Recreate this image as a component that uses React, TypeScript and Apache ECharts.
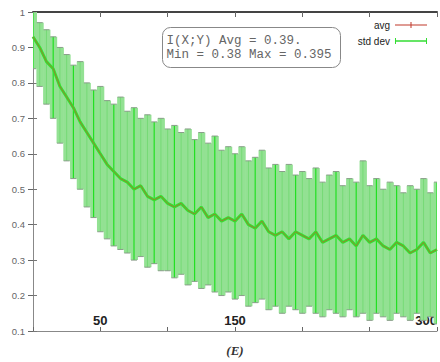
import React, { useEffect, useRef } from "react";
import * as echarts from "echarts";

// x positions (E)
const xs = [
  0, 5, 10, 15, 20, 25, 30, 35, 40, 45, 50, 55, 60, 65, 70, 75, 80, 85, 90, 95,
  100, 105, 110, 115, 120, 125, 130, 135, 140, 145, 150, 155, 160, 165, 170, 175,
  180, 185, 190, 195, 200, 205, 210, 215, 220, 225, 230, 235, 240, 245, 250, 255,
  260, 265, 270, 275, 280, 285, 290, 295, 300,
];

// average I(X;Y)
const avg = [
  0.93, 0.9, 0.86, 0.84, 0.79, 0.76, 0.73, 0.69, 0.66, 0.63, 0.6, 0.57, 0.55, 0.53,
  0.52, 0.5, 0.51, 0.48, 0.47, 0.48, 0.46, 0.45, 0.46, 0.44, 0.43, 0.45, 0.42, 0.43,
  0.41, 0.42, 0.41, 0.43, 0.4, 0.39, 0.41, 0.38, 0.37, 0.38, 0.36, 0.38, 0.37, 0.36,
  0.38, 0.35, 0.36, 0.37, 0.35, 0.36, 0.34, 0.37, 0.35, 0.36, 0.34, 0.33, 0.35, 0.34,
  0.32, 0.33, 0.35, 0.32, 0.33,
];

// avg + std dev
const upper = [
  1.0, 0.97, 0.95, 0.93, 0.9, 0.88, 0.85, 0.86, 0.8, 0.78, 0.79, 0.75, 0.74, 0.76,
  0.72, 0.73, 0.7, 0.71, 0.69, 0.7, 0.67, 0.68, 0.66, 0.67, 0.64, 0.66, 0.63, 0.65,
  0.61, 0.62, 0.6, 0.62, 0.58, 0.59, 0.61, 0.56, 0.57, 0.55, 0.57, 0.54, 0.55, 0.53,
  0.56, 0.52, 0.54, 0.55, 0.51, 0.53, 0.52, 0.58, 0.51, 0.53, 0.5, 0.52, 0.51, 0.49,
  0.51, 0.5, 0.53, 0.49, 0.52,
];

// avg - std dev
const lower = [
  0.84, 0.79, 0.74, 0.7, 0.63, 0.58, 0.53, 0.5, 0.45, 0.42, 0.38, 0.36, 0.34, 0.33,
  0.32, 0.3, 0.31, 0.28, 0.29, 0.27, 0.27, 0.25, 0.26, 0.23, 0.24, 0.22, 0.23, 0.21,
  0.2, 0.21, 0.19, 0.2, 0.17, 0.18, 0.19, 0.16, 0.17, 0.15, 0.17, 0.16, 0.15, 0.17,
  0.15, 0.14, 0.16, 0.15, 0.14, 0.16, 0.14, 0.15, 0.13, 0.15, 0.14, 0.13, 0.15, 0.14,
  0.13, 0.15, 0.13, 0.14, 0.12,
];

const xTickLabels = [50, 150, 300];
const annotationLines = ["I(X;Y) Avg = 0.39.", "Min = 0.38 Max = 0.395"];

const STEP = 5;

export default function App() {
  const ref = useRef<HTMLDivElement>(null);

  useEffect(() => {
    if (!ref.current) return;
    const chart = echarts.init(ref.current, undefined, { renderer: "svg" });

    const barData = xs.map((x, i) => [x, lower[i], upper[i]]);
    const avgData = xs.map((x, i) => [x, avg[i]]);

    const bandItem = (params: any, api: any) => {
      const x = api.value(0);
      const lo = api.value(1);
      const hi = api.value(2);
      const pHi = api.coord([x, hi]);
      const pLo = api.coord([x, lo]);
      const half = api.size([STEP / 2, 0])[0];
      return {
        type: "rect",
        shape: { x: pHi[0] - half, y: pHi[1], width: half * 2 + 0.6, height: pLo[1] - pHi[1] },
        style: { fill: "#93e193" },
      };
    };

    const barItem = (params: any, api: any) => {
      const x = api.value(0);
      const lo = api.value(1);
      const hi = api.value(2);
      const pHi = api.coord([x, hi]);
      const pLo = api.coord([x, lo]);
      const cap = 3;
      const strong = params.dataIndex % 3 === 0;
      return {
        type: "group",
        children: [
          {
            type: "line",
            shape: { x1: pHi[0], y1: pHi[1], x2: pLo[0], y2: pLo[1] },
            style: { stroke: strong ? "#22e022" : "#6fd86f", lineWidth: strong ? 1.2 : 0.8 },
          },
          {
            type: "line",
            shape: { x1: pHi[0] - cap, y1: pHi[1], x2: pHi[0] + cap, y2: pHi[1] },
            style: { stroke: "#8a9e8a", lineWidth: 1 },
          },
          {
            type: "line",
            shape: { x1: pLo[0] - cap, y1: pLo[1], x2: pLo[0] + cap, y2: pLo[1] },
            style: { stroke: "#8a9e8a", lineWidth: 1 },
          },
        ],
      };
    };

    const legendCommon = {
      orient: "vertical",
      right: 8,
      align: "right",
      itemWidth: 32,
      itemHeight: 8,
      textStyle: { fontSize: 10, color: "#222", fontFamily: "Liberation Sans Narrow, Liberation Sans, sans-serif" },
    };

    chart.setOption({
      animation: false,
      backgroundColor: "#ffffff",
      grid: { left: 33, right: 0, top: 12, bottom: 27, containLabel: false },
      legend: [
        {
          ...legendCommon,
          top: 15,
          data: [{ name: "avg", icon: "path://M0,4.5h32v1h-32z M15.5,2h1v6h-1z" }],
        },
        {
          ...legendCommon,
          top: 31,
          data: [{ name: "std dev", icon: "path://M0,4.3h32v1.4h-32z M0,2h1v6h-1z M31,2h1v6h-1z" }],
        },
      ],
      xAxis: [
        {
          type: "value",
          position: "bottom",
          min: 0,
          max: 300,
          interval: 50,
          name: "(E)",
          nameLocation: "middle",
          nameGap: 13,
          nameTextStyle: {
            fontStyle: "italic",
            fontWeight: "bold",
            fontSize: 13,
            color: "#333",
            fontFamily: "Liberation Serif, serif",
          },
          axisLine: { show: true, lineStyle: { color: "#888", width: 1 } },
          axisTick: { show: true, inside: true, length: 4, lineStyle: { color: "#666" } },
          splitLine: { show: false },
          axisLabel: {
            inside: true,
            margin: 4,
            fontSize: 13,
            fontWeight: "bold",
            color: "#222",
            fontFamily: "Liberation Sans, sans-serif",
            alignMaxLabel: "right",
            showMaxLabel: true,
            formatter: (v: number) => (xTickLabels.includes(Math.round(v)) ? String(Math.round(v)) : ""),
          },
        },
        {
          type: "value",
          position: "top",
          min: 0,
          max: 300,
          interval: 50,
          axisLine: { show: true, lineStyle: { color: "#444", width: 2 } },
          axisTick: { show: true, inside: true, length: 5, lineStyle: { color: "#666" } },
          axisLabel: { show: false },
          splitLine: { show: false },
        },
      ],
      yAxis: [
        {
          type: "value",
          position: "left",
          min: 0.1,
          max: 1,
          interval: 0.1,
          axisLine: { show: true, lineStyle: { color: "#888", width: 1 } },
          axisTick: { show: true, inside: true, length: 4, lineStyle: { color: "#777" } },
          splitLine: { show: false },
          axisLabel: {
            margin: 8,
            fontSize: 9.5,
            color: "#666",
            fontFamily: "Liberation Sans, sans-serif",
            formatter: (v: number) => {
              const r = Math.round(v * 10) / 10;
              return r === 1 ? "1" : r.toFixed(1);
            },
          },
        },
        {
          type: "value",
          position: "right",
          min: 0.1,
          max: 1,
          interval: 0.1,
          axisLine: { show: false },
          axisTick: { show: true, inside: true, length: 5, lineStyle: { color: "#666" } },
          axisLabel: { show: false },
          splitLine: { show: false },
        },
      ],
      graphic: [
        {
          type: "group",
          left: 162,
          top: 27,
          children: [
            {
              type: "rect",
              shape: { x: 0, y: 0, width: 178, height: 40, r: 8 },
              style: { fill: "#ffffff", stroke: "#888", lineWidth: 1 },
            },
            {
              type: "text",
              x: 4,
              y: 6,
              style: {
                text: annotationLines.join("\n"),
                fontFamily: "Liberation Mono, DejaVu Sans Mono, monospace",
                fontSize: 12.5,
                lineHeight: 14,
                fill: "#666",
              },
            },
          ],
        },
      ],
      series: [
        {
          type: "custom",
          xAxisIndex: 0,
          yAxisIndex: 0,
          renderItem: bandItem,
          data: barData,
          clip: true,
          silent: true,
          z: 1,
        },
        {
          name: "std dev",
          type: "custom",
          xAxisIndex: 0,
          yAxisIndex: 0,
          renderItem: barItem,
          data: barData,
          clip: true,
          itemStyle: { color: "#33dd33" },
          z: 2,
        },
        {
          type: "line",
          data: avgData,
          symbol: "none",
          lineStyle: { color: "#33e333", width: 3 },
          z: 3,
        },
        {
          name: "avg",
          type: "line",
          data: avgData,
          symbol: "none",
          itemStyle: { color: "#c0392b" },
          lineStyle: { color: "#b8602a", width: 0.9, opacity: 0.85 },
          z: 4,
        },
      ],
    });

    return () => chart.dispose();
  }, []);

  return (
    <div
      ref={ref}
      style={{ position: "fixed", left: 0, top: 0, width: 440, height: 362 }}
    />
  );
}
